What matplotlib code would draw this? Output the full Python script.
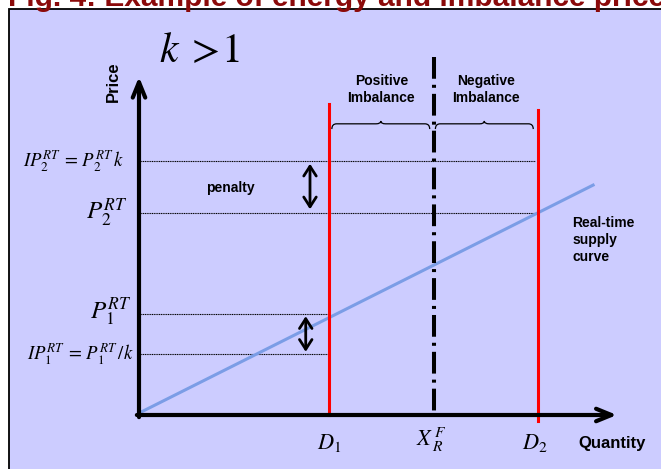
import matplotlib.pyplot as plt
from matplotlib.patches import Rectangle, PathPatch
from matplotlib.path import Path

plt.rcParams['font.family'] = ['Liberation Sans', 'DejaVu Sans']
plt.rcParams['mathtext.fontset'] = 'stix'

# Schematic values (diagram units)
d1, x_rf, d2 = 40.0, 62.0, 84.0
ip2, p2, p1, ip1 = 53.4, 42.5, 21.2, 12.8
supply_q = [0.0, 95.6]
supply_p = [0.4, 48.4]

quantity_ticks = [d1, x_rf, d2]
quantity_labels = [r'$D_1$', r'$X_{\,R}^{\,F}$', r'$D_2$']
price_levels = [ip2, p2, p1, ip1]
price_labels = [r'$IP_2^{RT}\,=\,P_2^{RT}\,k$', r'$P_2^{RT}$', r'$P_1^{RT}$',
                r'$IP_1^{RT}\,=\,P_1^{RT}\,/k$']
guide_ends = [d2 - 0.6, d2, d1, d1]

title = 'Fig. 4: Example of energy and imbalance prices'

# figure geometry (pixels) and diagram scale
W, H = 661, 469
PX = 4.75          # pixels per diagram unit
OX, OY = 139, 415  # origin of the diagram in pixels

fig = plt.figure(figsize=(W / 100, H / 100), dpi=100)
fig.patch.set_facecolor('white')
ax = fig.add_axes([0, 0, 1, 1])
ax.set_xlim(-OX / PX, (W - OX) / PX)
ax.set_ylim(-(H - OY) / PX, OY / PX)
ax.axis('off')

# lavender panel with border, running off the right/bottom edges
ax.add_patch(Rectangle((9 / W, -0.1), 1.2, 1.1 - 9 / H, transform=ax.transAxes,
                       facecolor='#CCCCFF', edgecolor='black', lw=1.3, zorder=0))

fig.text(8 / W, 1 - 6.5 / H, title, fontsize=21.5, fontweight='bold',
         color='#8B0A0A', va='baseline', ha='left')

# axes arrows
ax.annotate('', xy=(0, 71.2), xytext=(0, -0.45),
            arrowprops=dict(arrowstyle='->, head_length=1.1, head_width=0.45',
                            lw=3, color='black', shrinkA=0, shrinkB=0,
                            mutation_scale=10), zorder=5)
ax.annotate('', xy=(100.6, 0), xytext=(-0.45, 0),
            arrowprops=dict(arrowstyle='->, head_length=1.1, head_width=0.45',
                            lw=3, color='black', shrinkA=0, shrinkB=0,
                            mutation_scale=10), zorder=5)

# supply curve
ax.plot(supply_q, supply_p, color='#7B9DE6', lw=2.2, zorder=3)

# demand / forecast lines
ax.plot([d1, d1], [0, 65.5], color='red', lw=2.2, zorder=4)
ax.plot([d2, d2], [-1.3, 64.2], color='red', lw=2.2, zorder=4)
ax.plot([x_rf, x_rf], [75.4, 0], color='black', lw=2.9,
        dashes=(5.4, 1.5, 0.75, 1.5), zorder=4)

# dotted price guides and their labels
sizes = [13.5, 18, 18, 13.5]
offsets = [(-10, 0), (-8, 0), (-5, 2), (-4, 0)]
for lev, lab, end, fs, off in zip(price_levels, price_labels, guide_ends, sizes, offsets):
    ax.plot([0, end], [lev, lev], color='black', lw=0.8, ls=(0, (1.0, 0.6)), zorder=2)
    ax.annotate(lab, xy=(0, lev), xytext=off, textcoords='offset points',
                ha='right', va='center', fontsize=fs)

for q, lab, dx, dy in zip(quantity_ticks, quantity_labels, [0, -1.5, -2], [-20, -18, -20]):
    ax.annotate(lab, xy=(q, 0), xytext=(dx, dy), textcoords='offset points',
                ha='center', va='center', fontsize=16)

# penalty arrows
arrow_kw = dict(arrowstyle='<->, head_length=0.7, head_width=0.45', lw=2,
                color='black', shrinkA=0, shrinkB=0, mutation_scale=10)
ax.annotate('', xy=(36.0, p2 + 0.8), xytext=(36.0, ip2 - 0.5), arrowprops=arrow_kw)
ax.annotate('', xy=(35.1, ip1 + 0.5), xytext=(35.1, p1 - 0.4), arrowprops=arrow_kw)


def brace(x0, x1, y0, h1=1.1, h2=0.6, r=1.0):
    xm = (x0 + x1) / 2
    yh = y0 + h1
    verts = [(x0, y0), (x0, yh), (x0 + r, yh),
             (xm - r, yh), (xm, yh), (xm, yh + h2),
             (xm, yh), (xm + r, yh),
             (x1 - r, yh), (x1, yh), (x1, y0)]
    codes = [Path.MOVETO, Path.CURVE3, Path.CURVE3,
             Path.LINETO, Path.CURVE3, Path.CURVE3,
             Path.CURVE3, Path.CURVE3,
             Path.LINETO, Path.CURVE3, Path.CURVE3]
    ax.add_patch(PathPatch(Path(verts, codes), fill=False, lw=0.9,
                           edgecolor='black', zorder=3))


brace(d1 + 0.6, x_rf - 0.8, 60.2)
brace(x_rf + 0.4, d2 - 1.0, 60.2)

ax.text((d1 + x_rf) / 2, 68.5, 'Positive\nImbalance', ha='center', va='center',
        fontsize=10, fontweight='bold', linespacing=1.25)
ax.text((x_rf + d2) / 2, 68.5, 'Negative\nImbalance', ha='center', va='center',
        fontsize=10, fontweight='bold', linespacing=1.25)
ax.text(19.2, 47.8, 'penalty', ha='center', va='center', fontsize=10, fontweight='bold')
ax.text(91.2, 36.8, 'Real-time\nsupply\ncurve', ha='left', va='center',
        fontsize=10, fontweight='bold', linespacing=1.25)
ax.text(-5.3, 70.1, 'Price', rotation=90, ha='center', va='center',
        fontsize=12, fontweight='bold')
ax.text(92.6, -5.9, 'Quantity', ha='left', va='center', fontsize=12, fontweight='bold')
ax.text(12.8, 76.6, r'$k\;>\!1$', ha='center', va='center', fontsize=30)

fig.savefig('out.png', dpi=100)
